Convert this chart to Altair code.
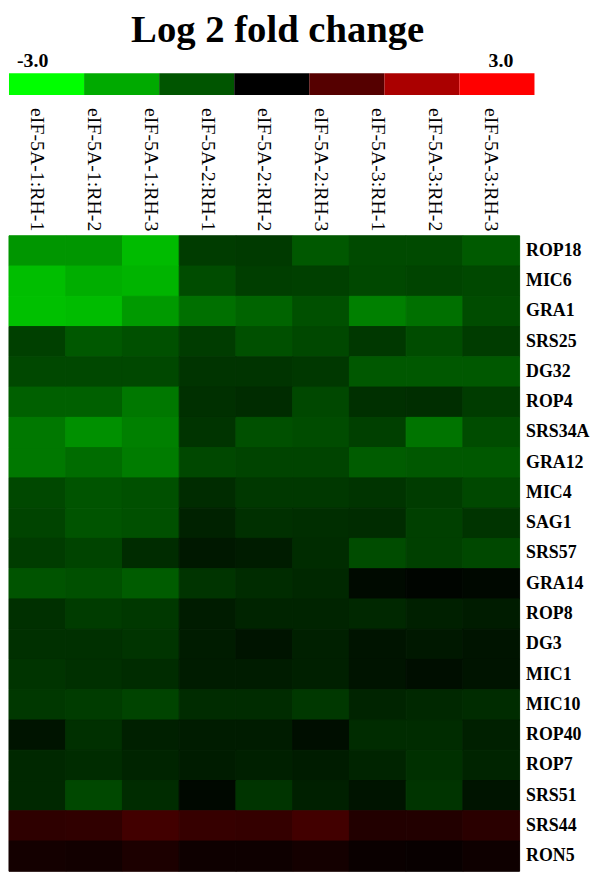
import altair as alt
import pandas as pd

samples = ["eIF-5A-1:RH-1", "eIF-5A-1:RH-2", "eIF-5A-1:RH-3",
           "eIF-5A-2:RH-1", "eIF-5A-2:RH-2", "eIF-5A-2:RH-3",
           "eIF-5A-3:RH-1", "eIF-5A-3:RH-2", "eIF-5A-3:RH-3"]

genes = ["ROP18", "MIC6", "GRA1", "SRS25", "DG32", "ROP4", "SRS34A", "GRA12",
         "MIC4", "SAG1", "SRS57", "GRA14", "ROP8", "DG3", "MIC1", "MIC10",
         "ROP40", "ROP7", "SRS51", "SRS44", "RON5"]

rop18 = [-1.76, -1.76, -2.20, -0.71, -0.68, -1.04, -0.87, -0.87, -1.06]
mic6 = [-2.24, -2.05, -2.12, -0.89, -0.73, -0.75, -0.85, -0.80, -0.85]
gra1 = [-2.26, -2.21, -1.81, -1.32, -1.18, -0.94, -1.51, -1.32, -0.89]
srs25 = [-0.75, -1.04, -0.94, -0.71, -0.94, -0.85, -0.66, -0.89, -0.71]
dg32 = [-0.85, -0.85, -0.85, -0.61, -0.61, -0.66, -1.04, -1.04, -1.04]
rop4 = [-1.13, -1.13, -1.41, -0.56, -0.52, -0.85, -0.56, -0.54, -0.71]
srs34a = [-1.41, -1.69, -1.51, -0.61, -0.94, -0.89, -0.75, -1.36, -0.89]
gra12 = [-1.41, -1.27, -1.46, -0.85, -0.80, -0.80, -1.08, -1.04, -1.04]
mic4 = [-0.85, -0.99, -0.94, -0.52, -0.66, -0.66, -0.61, -0.71, -0.85]
sag1 = [-0.80, -0.99, -0.94, -0.40, -0.56, -0.54, -0.52, -0.75, -0.61]
srs57 = [-0.71, -0.80, -0.52, -0.28, -0.33, -0.52, -0.89, -0.75, -0.85]
gra14 = [-0.99, -0.94, -1.08, -0.61, -0.52, -0.47, -0.12, -0.06, -0.09]
rop8 = [-0.56, -0.71, -0.66, -0.33, -0.42, -0.42, -0.47, -0.38, -0.33]
dg3 = [-0.56, -0.56, -0.61, -0.33, -0.24, -0.38, -0.24, -0.28, -0.24]
mic1 = [-0.61, -0.56, -0.52, -0.33, -0.33, -0.38, -0.24, -0.16, -0.24]
mic10 = [-0.66, -0.71, -0.80, -0.52, -0.52, -0.66, -0.42, -0.47, -0.52]
rop40 = [-0.24, -0.56, -0.38, -0.33, -0.33, -0.16, -0.52, -0.52, -0.38]
rop7 = [-0.47, -0.52, -0.42, -0.33, -0.38, -0.33, -0.42, -0.56, -0.42]
srs51 = [-0.47, -0.85, -0.52, -0.09, -0.61, -0.38, -0.24, -0.61, -0.24]
srs44 = [0.54, 0.56, 0.78, 0.64, 0.61, 0.78, 0.40, 0.40, 0.49]
ron5 = [0.24, 0.21, 0.33, 0.16, 0.16, 0.24, 0.12, 0.09, 0.16]

gene_rows = [rop18, mic6, gra1, srs25, dg32, rop4, srs34a, gra12, mic4, sag1,
             srs57, gra14, rop8, dg3, mic1, mic10, rop40, rop7, srs51, srs44, ron5]

legend_values = [-3, -2, -1, 0, 1, 2, 3]
legend_low_label = "-3.0"
legend_high_label = "3.0"

records = []
for g, vals in zip(genes, gene_rows):
    for s, v in zip(samples, vals):
        records.append({"gene": g, "sample": s, "value": v})
df = pd.DataFrame(records)

legend_df = pd.DataFrame({"step": legend_values, "value": legend_values})
low_df = pd.DataFrame({"step": [legend_values[0]], "label": [legend_low_label]})
high_df = pd.DataFrame({"step": [legend_values[-1]], "label": [legend_high_label]})

color_scale = alt.Scale(domain=[-3, 0, 3], range=["#00ff00", "#000000", "#ff0000"],
                        interpolate="rgb")

leg_x = alt.X("step:O", axis=None, scale=alt.Scale(paddingInner=0, paddingOuter=0))

leg_rect = alt.Chart(legend_df).mark_rect().encode(
    x=leg_x,
    color=alt.Color("value:Q", scale=color_scale, legend=None),
)
text_style = dict(font="Liberation Serif", fontSize=20, fontWeight="bold",
                  baseline="alphabetic", dy=-17, color="black")
leg_low = alt.Chart(low_df).mark_text(dx=-14, **text_style).encode(x=leg_x, text="label:N")
leg_high = alt.Chart(high_df).mark_text(dx=4, **text_style).encode(x=leg_x, text="label:N")

legend_chart = alt.layer(leg_rect, leg_low, leg_high).properties(
    width=530, height=22,
    title=alt.TitleParams("Log 2 fold change", font="Liberation Serif", fontSize=39,
                          fontWeight="bold", anchor="middle", color="black", offset=1, dx=6)
)

heat = alt.Chart(df).mark_rect(strokeWidth=1).encode(
    x=alt.X("sample:N", sort=samples, title=None,
            scale=alt.Scale(paddingInner=0, paddingOuter=0),
            axis=alt.Axis(orient="top", labelAngle=90, labelAlign="right",
                          labelBaseline="middle", labelFont="Liberation Serif",
                          labelFontSize=20, labelColor="black", ticks=False,
                          domain=False, labelPadding=5, labelLimit=300)),
    y=alt.Y("gene:N", sort=genes, title=None,
            scale=alt.Scale(paddingInner=0, paddingOuter=0),
            axis=alt.Axis(orient="right", labelFont="Liberation Serif",
                          labelFontSize=18, labelFontWeight="bold", labelColor="black",
                          ticks=False, domain=False, labelPadding=6)),
    color=alt.Color("value:Q", scale=color_scale, legend=None),
    stroke=alt.Stroke("value:Q", scale=color_scale, legend=None),
).properties(width=515, height=641)

chart = alt.vconcat(legend_chart, heat, spacing=12).properties(
    padding={"left": 0, "top": 0, "right": 0, "bottom": 0},
    background="white"
).configure_view(stroke=None)

chart.save("out.html", embed_options={"renderer": "svg", "actions": False})
